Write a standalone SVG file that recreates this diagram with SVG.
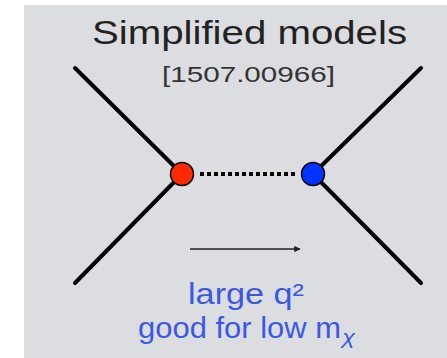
<svg xmlns="http://www.w3.org/2000/svg" width="447" height="358" viewBox="0 0 447 358">
<defs>
<style>
.leg{stroke:#000;stroke-width:4;stroke-linecap:round;fill:none}
.t{font-family:"Liberation Sans",Arial,sans-serif}
.b{fill:#3b57e6}
</style>
<marker id="ah" viewBox="0 0 10 10" refX="9" refY="5" markerWidth="5" markerHeight="4" orient="auto" markerUnits="strokeWidth">
<path d="M0,0 L10,5 L0,10 z" fill="#222"/>
</marker>
</defs>
<rect x="0" y="0" width="447" height="358" fill="#fff"/>
<rect x="24" y="5" width="423" height="353" fill="#dcdde1"/>
<text class="t" x="92" y="44" font-size="34" fill="#222" textLength="315" lengthAdjust="spacingAndGlyphs">Simplified models</text>
<text class="t" x="162" y="82" font-size="22" fill="#333" textLength="173" lengthAdjust="spacingAndGlyphs">[1507.00966]</text>
<g id="connectors">
<line class="leg" x1="75" y1="68" x2="182" y2="174"/>
<line class="leg" x1="75" y1="283" x2="182" y2="174"/>
<line class="leg" x1="421" y1="68" x2="313" y2="174"/>
<line class="leg" x1="421" y1="283" x2="313" y2="174"/>
<line x1="200" y1="174" x2="298" y2="174" stroke="#000" stroke-width="4" stroke-dasharray="4,3"/>
<line x1="190" y1="249" x2="300" y2="249" stroke="#222" stroke-width="1.6" marker-end="url(#ah)"/>
</g>
<g id="red"><circle cx="182" cy="174" r="11.5" fill="#ff2a00" stroke="#000" stroke-width="1.5"/></g>
<g id="blue"><circle cx="313" cy="174" r="11.5" fill="#0033ff" stroke="#000" stroke-width="1.5"/></g>
<text class="t b" x="188" y="304" font-size="29" textLength="116" lengthAdjust="spacingAndGlyphs">large q²</text>
<text class="t b" x="138" y="338" font-size="29" textLength="203" lengthAdjust="spacingAndGlyphs">good for low m</text>
<text class="t b" x="342" y="344" font-size="20" font-style="italic" textLength="13" lengthAdjust="spacingAndGlyphs">χ</text>
</svg>
